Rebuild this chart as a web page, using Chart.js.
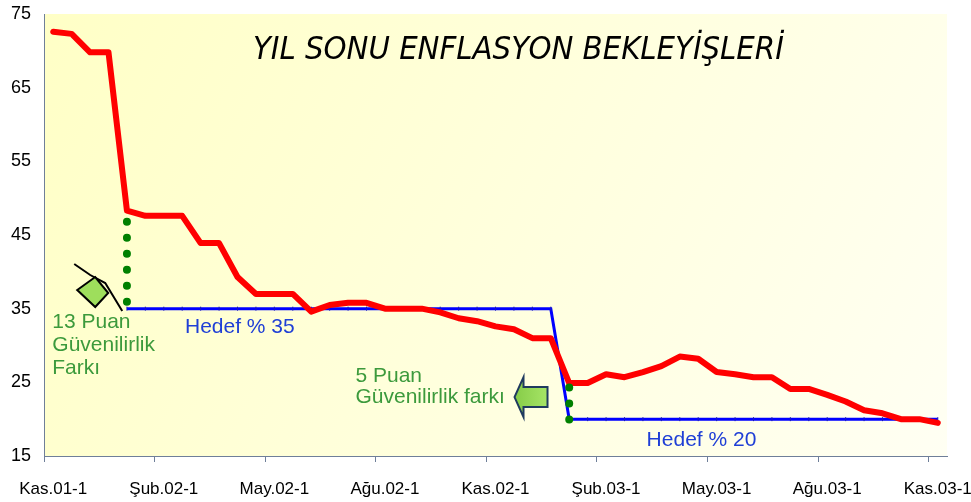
<!DOCTYPE html>
<html lang="tr">
<head>
  <meta charset="UTF-8" />
  <title>Yıl Sonu Enflasyon Beklentileri</title>
  <script src="https://cdn.jsdelivr.net/npm/chart.js"></script>
  <style>
    body { margin: 0; background: #fff; }
  </style>
</head>
<body>
  <canvas id="grafik" width="971" height="502"></canvas>

  <script>
    // yarim aylik donemler
    const donemler = [
      'Kas.01-1', 'Kas.01-2', 'Ara.01-1', 'Ara.01-2', 'Oca.02-1', 'Oca.02-2',
      'Şub.02-1', 'Şub.02-2', 'Mar.02-1', 'Mar.02-2', 'Nis.02-1', 'Nis.02-2',
      'May.02-1', 'May.02-2', 'Haz.02-1', 'Haz.02-2', 'Tem.02-1', 'Tem.02-2',
      'Ağu.02-1', 'Ağu.02-2', 'Eyl.02-1', 'Eyl.02-2', 'Eki.02-1', 'Eki.02-2',
      'Kas.02-1', 'Kas.02-2', 'Ara.02-1', 'Ara.02-2', 'Oca.03-1', 'Oca.03-2',
      'Şub.03-1', 'Şub.03-2', 'Mar.03-1', 'Mar.03-2', 'Nis.03-1', 'Nis.03-2',
      'May.03-1', 'May.03-2', 'Haz.03-1', 'Haz.03-2', 'Tem.03-1', 'Tem.03-2',
      'Ağu.03-1', 'Ağu.03-2', 'Eyl.03-1', 'Eyl.03-2', 'Eki.03-1', 'Eki.03-2',
      'Kas.03-1'
    ];

    // yil sonu enflasyon beklentisi (%)
    const beklenti = [
      72.6, 72.3, 69.8, 69.8, 48.3, 47.6, 47.6, 47.6, 43.9, 43.9,
      39.3, 37.0, 37.0, 37.0, 34.6, 35.5, 35.8, 35.8, 35.0, 35.0,
      35.0, 34.5, 33.7, 33.3, 32.6, 32.2, 31.0, 31.0, 24.9, 24.9,
      26.1, 25.7, 26.4, 27.2, 28.5, 28.2, 26.4, 26.1, 25.7, 25.7,
      24.1, 24.1, 23.3, 22.4, 21.2, 20.8, 20.0, 20.0, 19.5
    ];

    // hedef enflasyon (%)
    const hedef = [
      null, null, null, null, 35, 35, 35, 35, 35, 35,
      35, 35, 35, 35, 35, 35, 35, 35, 35, 35,
      35, 35, 35, 35, 35, 35, 35, 35, 20, 20,
      20, 20, 20, 20, 20, 20, 20, 20, 20, 20,
      20, 20, 20, 20, 20, 20, 20, 20, 20
    ];

    // guvenilirlik farki (noktali cizgiler)
    const fark2002 = [{ x: 'Oca.02-1', y: 46.8 }, { x: 'Oca.02-1', y: 35.85 }];
    const fark2003 = [{ x: 'Oca.03-1', y: 24.3 }, { x: 'Oca.03-1', y: 19.85 }];

    const yTicks = [15, 25, 35, 45, 55, 65, 75];

    const eksenRengi = '#6f7f99';
    const yesil = '#3c9a3c';
    const mavi = '#1f3fd6';
    const yazi = '"Liberation Sans", Arial, sans-serif';

    // grafik icindeki yazilar (x: donem sirasi, y: deger)
    const yazilar = [
      { satirlar: ['YIL SONU ENFLASYON BEKLEYİŞLERİ'], x: 10.84, y: 70.0, renk: '#000',
        font: 'italic 32.5px "DejaVu Sans Condensed", Tahoma, "DejaVu Sans", sans-serif', aralik: 0 },
      { satirlar: ['13 Puan', 'Güvenilirlik', 'Farkı'], x: -0.05, y: 33.2, renk: yesil, font: '21px ' + yazi, aralik: 23 },
      { satirlar: ['Hedef % 35'], x: 7.15, y: 32.5, renk: mavi, font: '21px ' + yazi, aralik: 0 },
      { satirlar: ['5 Puan', 'Güvenilirlik farkı'], x: 16.4, y: 25.9, renk: yesil, font: '21px ' + yazi, aralik: 21 },
      { satirlar: ['Hedef % 20'], x: 32.2, y: 17.2, renk: mavi, font: '21px ' + yazi, aralik: 0 }
    ];

    const suslemeler = {
      id: 'suslemeler',
      beforeDraw(chart) {
        const { ctx, chartArea: a } = chart;
        const g = ctx.createLinearGradient(a.left, a.top, a.right, a.bottom);
        g.addColorStop(0, '#ffffc6');
        g.addColorStop(1, '#fffff3');
        ctx.save();
        ctx.fillStyle = g;
        ctx.fillRect(a.left, a.top, a.right - a.left, a.bottom - a.top);
        ctx.restore();
      },
      afterDraw(chart) {
        const { ctx } = chart;
        const xs = chart.scales.x, ys = chart.scales.y;
        ctx.save();
        yazilar.forEach(t => {
          ctx.font = t.font;
          ctx.fillStyle = t.renk;
          ctx.textAlign = 'left';
          ctx.textBaseline = 'middle';
          const x0 = xs.getPixelForValue(t.x);
          const y0 = ys.getPixelForValue(t.y);
          t.satirlar.forEach((s, i) => ctx.fillText(s, x0, y0 + i * t.aralik));
        });

        // 13 puan oku
        let cx = xs.getPixelForValue(2.28), cy = ys.getPixelForValue(37.26);
        ctx.strokeStyle = '#000';
        ctx.lineWidth = 2;
        ctx.lineJoin = 'miter';
        ctx.beginPath();
        ctx.moveTo(cx - 21, cy - 28);
        ctx.lineTo(cx - 5, cy - 17);
        ctx.lineTo(cx + 10, cy - 9);
        ctx.lineTo(cx + 27, cy + 19);
        ctx.stroke();
        ctx.beginPath();
        ctx.moveTo(cx - 18, cy - 2);
        ctx.lineTo(cx, cy - 15);
        ctx.lineTo(cx + 13, cy + 1);
        ctx.lineTo(cx, cy + 15);
        ctx.closePath();
        ctx.fillStyle = '#9ede5c';
        ctx.fill();
        ctx.stroke();

        // 5 puan oku (sola)
        cx = xs.getPixelForValue(25.9); cy = ys.getPixelForValue(23.0);
        ctx.beginPath();
        ctx.moveTo(cx - 16, cy);
        ctx.lineTo(cx - 7, cy - 20);
        ctx.lineTo(cx - 7, cy - 10);
        ctx.lineTo(cx + 17, cy - 10);
        ctx.lineTo(cx + 17, cy + 10);
        ctx.lineTo(cx - 7, cy + 10);
        ctx.lineTo(cx - 7, cy + 20);
        ctx.closePath();
        const ag = ctx.createLinearGradient(cx - 16, cy, cx + 17, cy);
        ag.addColorStop(0, '#86cc48');
        ag.addColorStop(1, '#a6e466');
        ctx.fillStyle = ag;
        ctx.fill();
        ctx.strokeStyle = '#1f3a5f';
        ctx.lineWidth = 2;
        ctx.stroke();
        ctx.restore();
      }
    };

    new Chart(document.getElementById('grafik'), {
      type: 'line',
      data: {
        labels: donemler,
        datasets: [
          {
            label: 'Fark 2002',
            data: fark2002,
            borderColor: '#008000',
            borderWidth: 8,
            borderDash: [0, 16],
            borderCapStyle: 'round',
            pointRadius: 0,
            order: 0
          },
          {
            label: 'Fark 2003',
            data: fark2003,
            borderColor: '#008000',
            borderWidth: 8,
            borderDash: [0, 16],
            borderCapStyle: 'round',
            pointRadius: 0,
            order: 0
          },
          {
            label: 'Beklenti',
            data: beklenti,
            borderColor: '#ff0000',
            borderWidth: 6,
            borderCapStyle: 'round',
            borderJoinStyle: 'round',
            pointRadius: 0,
            tension: 0,
            order: 1
          },
          {
            label: 'Hedef',
            data: hedef,
            borderColor: '#0000ff',
            borderWidth: 3,
            pointStyle: 'line',
            rotation: 90,
            pointRadius: 2,
            pointBorderWidth: 1,
            pointBorderColor: '#1a1ab8',
            tension: 0,
            order: 2
          }
        ]
      },
      options: {
        responsive: false,
        animation: false,
        layout: { padding: { left: 0, right: 24, top: 14, bottom: 0 } },
        plugins: {
          legend: { display: false },
          tooltip: { enabled: false }
        },
        scales: {
          x: {
            type: 'category',
            offset: true,
            afterFit: s => {
              s.height = 46;
              s.paddingLeft = 0;
              s.paddingRight = 0;
            },
            grid: {
              offset: true,
              drawOnChartArea: false,
              drawTicks: true,
              tickLength: 6,
              lineWidth: 1,
              color: c => (c.index % 6 === 0 ? eksenRengi : 'rgba(0,0,0,0)')
            },
            border: { color: eksenRengi, width: 1 },
            ticks: {
              autoSkip: false,
              maxRotation: 0,
              minRotation: 0,
              padding: 17,
              color: '#000',
              font: { family: yazi, size: 17 },
              callback: (v, i) => (i % 6 === 0 ? donemler[i] : '')
            }
          },
          y: {
            min: 15,
            max: 75,
            afterBuildTicks: s => { s.ticks = yTicks.map(v => ({ value: v })); },
            afterFit: s => {
              s.width = 44;
              s.paddingTop = 0;
              s.paddingBottom = 0;
            },
            grid: { drawOnChartArea: false, drawTicks: false },
            border: { color: eksenRengi, width: 1 },
            ticks: {
              padding: 13,
              color: '#000',
              font: { family: yazi, size: 18 }
            }
          }
        }
      },
      plugins: [suslemeler]
    });
  </script>
</body>
</html>
